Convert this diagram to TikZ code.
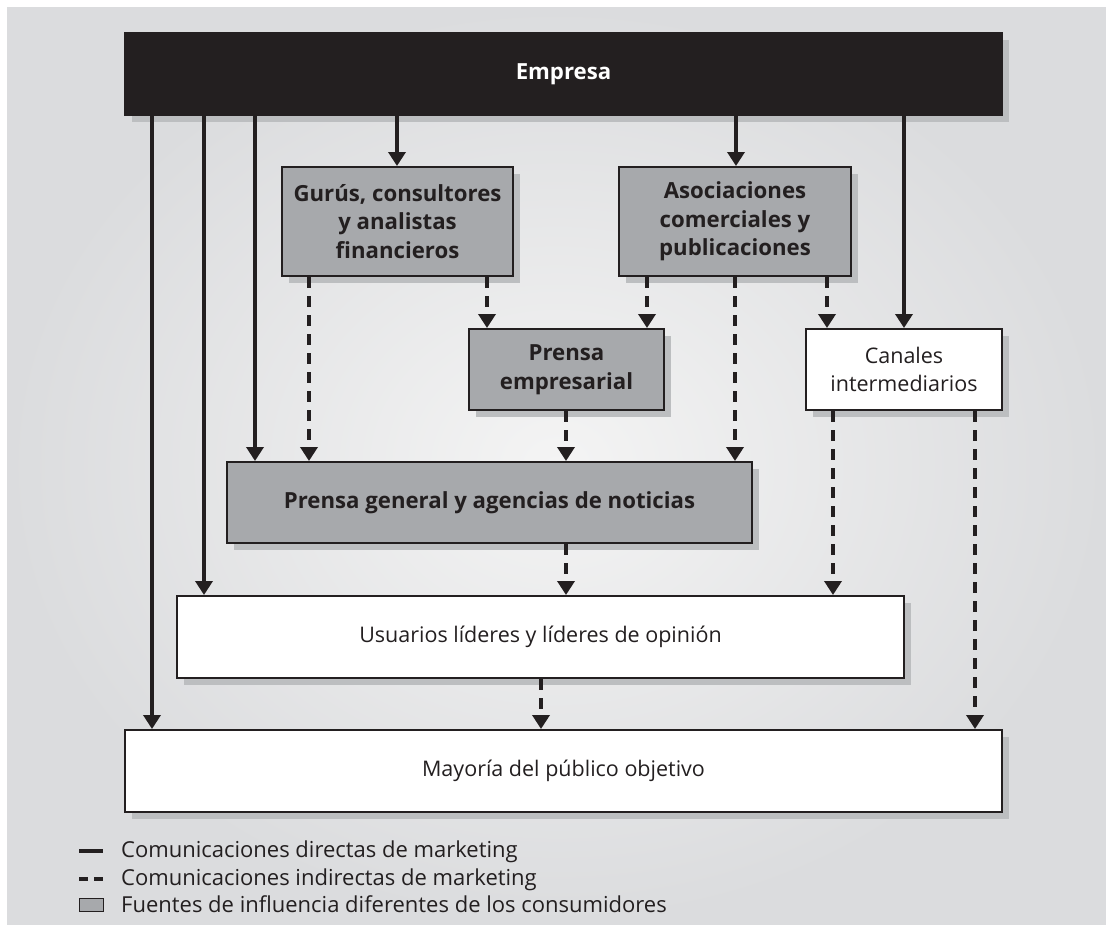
\documentclass[tikz,border=0pt]{standalone}
\usepackage{fontspec}
\setmainfont{Open Sans}
\usetikzlibrary{arrows.meta,shadows}
\definecolor{ink}{HTML}{231F20}
\definecolor{boxgray}{HTML}{A7A9AC}
\definecolor{shadowgray}{HTML}{BCBEC0}
\definecolor{bgouter}{HTML}{DBDCDE}
\definecolor{bginner}{HTML}{F4F4F4}
\begin{document}
\begin{tikzpicture}[x=1pt,y=-1pt,
  base/.style={draw=ink,line width=2pt,inner sep=0pt,align=center,text=ink,
    font=\fontsize{21.5}{28}\selectfont,
    general shadow={fill=shadowgray,shadow xshift=7pt,shadow yshift=-7pt}},
  influence/.style={base,fill=boxgray,font=\bfseries\fontsize{22.2}{28.5}\selectfont},
  plainbox/.style={base,fill=white},
  topbox/.style={base,fill=ink,text=white,font=\bfseries\fontsize{22.2}{28.5}\selectfont},
  direct/.style={draw=ink,line width=3.5pt,-{Triangle[width=17pt,length=14pt]}},
  indirect/.style={direct,dash pattern=on 11pt off 8pt},
  legend/.style={inner sep=0pt,text=ink,font=\fontsize{22}{27.5}\selectfont}
]
\useasboundingbox (0,0) rectangle (1106,924);
\shade[inner color=bginner,outer color=bgouter] (7,7) rectangle (1106,924);

% nodes
\node[topbox,minimum width=877pt,minimum height=82pt] (emp) at (563.5,74) {Empresa};
\node[influence,minimum width=231pt,minimum height=109pt] (guru) at (397.5,221.5) {Gurús, consultores\\y analistas\\financieros};
\node[influence,minimum width=232pt,minimum height=109pt] (asoc) at (735,221.5) {Asociaciones\\comerciales y\\publicaciones};
\node[influence,minimum width=195pt,minimum height=81pt] (pemp) at (566.5,369.5) {Prensa\\empresarial};
\node[plainbox,minimum width=196pt,minimum height=81pt] (canal) at (904,369.5) {Canales\\intermediarios};
\node[influence,minimum width=525pt,minimum height=81pt] (pgen) at (489.5,502.5) {Prensa general y agencias de noticias};
\node[plainbox,minimum width=727pt,minimum height=82pt] (usu) at (540.5,637) {Usuarios líderes y líderes de opinión};
\node[plainbox,minimum width=877pt,minimum height=82pt] (may) at (563.5,771) {Mayoría del público objetivo};

% direct communications
\draw[direct] (152,0 |- emp.south) -- (152,0 |- may.north);
\draw[direct] (204,0 |- emp.south) -- (204,0 |- usu.north);
\draw[direct] (255,0 |- emp.south) -- (255,0 |- pgen.north);
\draw[direct] (397,0 |- emp.south) -- (397,0 |- guru.north);
\draw[direct] (736,0 |- emp.south) -- (736,0 |- asoc.north);
\draw[direct] (904,0 |- emp.south) -- (904,0 |- canal.north);

% indirect communications
\draw[indirect] (309,0 |- guru.south) -- (309,0 |- pgen.north);
\draw[indirect] (487,0 |- guru.south) -- (487,0 |- pemp.north);
\draw[indirect] (647,0 |- asoc.south) -- (647,0 |- pemp.north);
\draw[indirect] (735,0 |- asoc.south) -- (735,0 |- pgen.north);
\draw[indirect] (827,0 |- asoc.south) -- (827,0 |- canal.north);
\draw[indirect] (566,0 |- pemp.south) -- (566,0 |- pgen.north);
\draw[indirect] (566,0 |- pgen.south) -- (566,0 |- usu.north);
\draw[indirect] (833,0 |- canal.south) -- (833,0 |- usu.north);
\draw[indirect] (975,0 |- canal.south) -- (975,0 |- may.north);
\draw[indirect] (541,0 |- usu.south) -- (541,0 |- may.north);

% legend
\node[legend,anchor=base west] (lg1) at (121,857) {Comunicaciones directas de marketing};
\node[legend,anchor=base west] (lg2) at (121,885) {Comunicaciones indirectas de marketing};
\node[legend,anchor=base west] (lg3) at (121,912) {Fuentes de influencia diferentes de los consumidores};
\draw[ink,line width=3.5pt] ([xshift=-42pt,yshift=6pt]lg1.base west) -- ++(24,0);
\draw[ink,line width=3.5pt,dash pattern=on 9pt off 6pt] ([xshift=-42pt,yshift=6pt]lg2.base west) -- ++(24,0);
\filldraw[fill=boxgray,draw=ink,line width=1pt] ([xshift=-42pt,yshift=1pt]lg3.base west) rectangle ++(24,-13);
\end{tikzpicture}
\end{document}
